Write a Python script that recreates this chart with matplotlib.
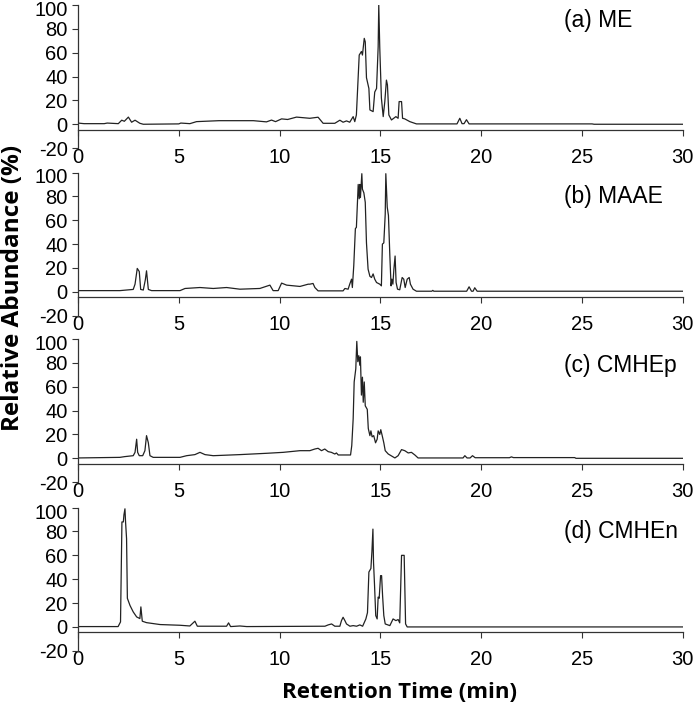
import matplotlib
matplotlib.use("Agg")
import matplotlib.pyplot as plt
from matplotlib.transforms import ScaledTranslation

# retention time (min) / relative abundance (%)
t_me = [0.0, 0.3, 1.3, 1.45, 2.0, 2.17, 2.3, 2.5, 2.66, 2.83, 3.07, 3.24, 5.0, 5.1,
        5.55, 5.88, 7.0, 8.0, 8.7, 9.35, 9.6, 9.8, 10.1, 10.4, 10.84, 11.5, 11.91,
        12.16, 12.74, 12.99, 13.15, 13.32, 13.48, 13.65, 13.73, 13.81, 13.95, 14.06,
        14.11, 14.2, 14.25, 14.31, 14.43, 14.48, 14.64, 14.72, 14.81, 14.89, 14.92,
        14.97, 15.05, 15.14, 15.22, 15.3, 15.35, 15.42, 15.55, 15.77, 15.88, 15.93,
        16.05, 16.1, 16.21, 16.46, 16.79, 18.8, 18.94, 19.05, 19.15, 19.27, 19.4,
        25.5, 25.6, 30.0]
ab_me = [1.0, 0.5, 0.5, 1.0, 0.5, 3.4, 2.5, 6.0, 1.7, 3.4, 0.8, 0.0, 0.3, 1.0,
         0.5, 2.2, 3.0, 3.0, 3.0, 2.0, 3.5, 2.2, 4.5, 4.0, 6.0, 5.0, 5.9,
         0.8, 0.8, 3.4, 1.7, 2.8, 1.7, 6.4, 2.2, 7.8, 58, 61,
         58, 72, 69, 39, 30, 12, 10.6, 27, 30, 65, 100,
         64, 22, 6.4, 19, 37, 33, 7.8, 3.6, 6.4, 5.0, 19,
         19, 5.0, 4.5, 2.2, 0.3, 0.3, 5.0, 0.5, 0.5, 3.8, 0.3,
         0.3, 0.0, 0.0]

t_maae = [0.0, 2.08, 2.74, 2.83, 2.94, 3.04, 3.11, 3.24, 3.34, 3.4, 3.49, 3.65,
          5.06, 5.31, 6.05, 6.71, 7.37, 8.03, 9.02, 9.52, 9.68, 9.93, 10.1, 10.35,
          11.01, 11.42, 11.5, 11.66, 11.75, 11.91, 13.15, 13.24, 13.4, 13.48, 13.57,
          13.61, 13.68, 13.76, 13.81, 13.9, 13.95, 13.98, 14.01, 14.08, 14.11, 14.18,
          14.25, 14.31, 14.39, 14.48, 14.56, 14.64, 14.72, 14.81, 14.97, 15.05, 15.1,
          15.17, 15.24, 15.27, 15.34, 15.4, 15.47, 15.53, 15.57, 15.62, 15.67, 15.73,
          15.78, 15.85, 15.96, 16.08, 16.16, 16.23, 16.33, 16.43, 16.49, 16.62, 16.79,
          17.55, 17.6, 17.65, 19.28, 19.4, 19.52, 19.6, 19.68, 19.8, 30.0]
ab_maae = [1.0, 1.0, 2.0, 6.4, 19.6, 17.0, 2.0, 1.5, 10.0, 17.6, 2.0, 1.0,
           1.0, 2.8, 3.6, 2.8, 3.6, 2.2, 2.8, 5.6, 1.0, 1.0, 7.3, 5.6,
           4.5, 6.4, 6.4, 7.0, 3.6, 0.8, 0.8, 2.8, 2.2, 6.4, 10.6,
           3.6, 22, 53, 54, 90, 78, 90, 79, 99, 86, 83,
           75, 41, 19, 13, 12, 15, 10.6, 7.8, 6.4, 5.0, 40,
           41, 65, 99, 71, 64, 30, 5.0, 10.6, 6.4, 19, 30,
           7.8, 2.2, 1.7, 12, 10.6, 3.6, 10.6, 12, 6.4, 2.2, 0.5,
           0.5, 1.2, 0.5, 0.5, 4.2, 0.5, 0.5, 3.4, 0.5, 0.5]

t_cmhep = [0.0, 2.08, 2.31, 2.74, 2.83, 2.91, 2.96, 3.04, 3.21, 3.32, 3.4, 3.49,
           3.57, 3.73, 5.06, 5.39, 5.8, 6.05, 6.3, 6.71, 8.03, 9.35, 10.18, 11.01,
           11.5, 11.75, 11.91, 12.08, 12.24, 12.41, 12.57, 12.74, 12.82, 12.91, 13.52,
           13.58, 13.65, 13.7, 13.78, 13.83, 13.88, 13.93, 13.98, 14.01, 14.06, 14.11,
           14.15, 14.2, 14.25, 14.35, 14.4, 14.48, 14.53, 14.59, 14.67, 14.76, 14.84,
           14.89, 14.97, 15.02, 15.09, 15.17, 15.24, 15.39, 15.72, 15.88, 16.05, 16.21,
           16.38, 16.54, 16.71, 16.87, 19.1, 19.19, 19.3, 19.45, 19.57, 19.7, 21.4,
           21.5, 21.6, 24.64, 24.7, 30.0]
ab_cmhep = [0.3, 0.8, 1.4, 2.2, 5.0, 16, 5.0, 2.2, 2.2, 6.4, 19, 13,
            2.2, 0.8, 0.8, 2.2, 3.1, 5.0, 3.1, 2.2, 3.1, 4.2, 5.0, 6.4,
            6.4, 7.8, 8.4, 6.4, 7.8, 5.6, 5.0, 3.6, 4.5, 2.8, 2.8,
            10.6, 33, 64, 75, 98, 81, 86, 78, 85, 53, 68,
            47, 64, 44, 41, 25, 19, 23, 18, 19, 13, 16,
            23, 20, 24, 19, 13, 6.4, 3.6, 0.3, 2.2, 7.3, 6.4,
            4.5, 5.0, 2.8, 0.3, 0.3, 2.2, 0.3, 0.3, 2.2, 0.5, 0.5,
            1.2, 0.6, 0.6, 0.0, 0.0]

t_cmhen = [0.0, 1.99, 2.11, 2.18, 2.25, 2.28, 2.33, 2.36, 2.41, 2.45, 2.58, 2.74,
           2.91, 3.07, 3.12, 3.19, 3.4, 4.07, 5.06, 5.55, 5.8, 5.92, 7.37, 7.47,
           7.57, 8.03, 8.37, 12.25, 12.41, 12.58, 12.74, 12.99, 13.07, 13.15, 13.24,
           13.32, 13.49, 13.65, 13.82, 13.98, 14.12, 14.28, 14.36, 14.43, 14.53, 14.58,
           14.63, 14.66, 14.71, 14.77, 14.84, 14.89, 14.94, 15.01, 15.06, 15.11, 15.17,
           15.24, 15.47, 15.63, 15.77, 15.88, 15.96, 16.05, 16.18, 16.25, 16.33, 30.0]
ab_cmhen = [0.3, 0.3, 4.2, 88, 88, 94, 99, 88, 74, 24, 18, 12.6,
            8.4, 7.0, 16.8, 4.8, 3.6, 2.0, 1.4, 0.8, 4.8, 0.6, 0.6, 3.4,
            0.3, 0.8, 0.3, 0.6, 1.7, 2.5, 0.6, 0.6, 5.3, 8.1, 5.3,
            2.5, 0.6, 1.1, 0.6, 1.7, 0.6, 6.7, 12, 46, 49, 63,
            82, 54, 35, 9.5, 6.7, 25, 24, 43, 43, 26, 9.5,
            2.5, 1.1, 6.7, 5.3, 6.2, 3.4, 60, 60, 2.5, 0.0, 0.0]

panel_labels = ["(a) ME", "(b) MAAE", "(c) CMHEp", "(d) CMHEn"]
series = [(t_me, ab_me), (t_maae, ab_maae), (t_cmhep, ab_cmhep), (t_cmhen, ab_cmhen)]

x_ticks = [0, 5, 10, 15, 20, 25, 30]
y_ticks = [-20, 0, 20, 40, 60, 80, 100]

# layout (figure fractions) and label heights
bottoms = [0.7905, 0.5535, 0.3180, 0.0795]
label_y = [87, 80, 78, 80]

plt.rcParams["font.family"] = ["Liberation Sans", "DejaVu Sans"]
plt.rcParams["axes.unicode_minus"] = False
fig = plt.figure(figsize=(7, 7.07), dpi=100)

for (t, ab), name, b, ly in zip(series, panel_labels, bottoms, label_y):
    ax = fig.add_axes([0.1114, b, 0.864, 0.2025])
    ax.plot(t, ab, color="#222222", lw=0.9)
    ax.set_xlim(0, 30)
    ax.set_ylim(-20, 100)
    ax.set_xticks(x_ticks)
    ax.set_yticks(y_ticks)
    for s in ("top", "right"):
        ax.spines[s].set_visible(False)
    ax.spines["bottom"].set_position(("data", -4.5))
    for s in ("left", "bottom"):
        ax.spines[s].set_color("#333333")
        ax.spines[s].set_linewidth(0.9)
    ax.tick_params(axis="x", direction="out", length=4, pad=9, labelsize=14.5,
                   color="#333333")
    ax.tick_params(axis="y", direction="out", length=4, pad=3.5, labelsize=14.5,
                   color="#333333")
    ax.patch.set_alpha(0)
    # the top "100" label sits a little below its tick, as in the original
    top_lbl = ax.get_yticklabels()[-1]
    top_lbl.set_transform(top_lbl.get_transform()
                          + ScaledTranslation(0, -2.5 / 72, fig.dpi_scale_trans))
    ax.text(24.1, ly, name, fontsize=16.5, va="center", ha="left")

fig.text(0.018, 0.593, "Relative Abundance (%)", rotation=90, ha="center",
         va="center", fontsize=17.5, fontweight="bold", family=["Open Sans", "DejaVu Sans"])
fig.text(0.571, 0.021, "Retention Time (min)", ha="center", va="center",
         fontsize=16, fontweight="bold", family=["Open Sans", "DejaVu Sans"])

fig.savefig("out.png", dpi=100)
